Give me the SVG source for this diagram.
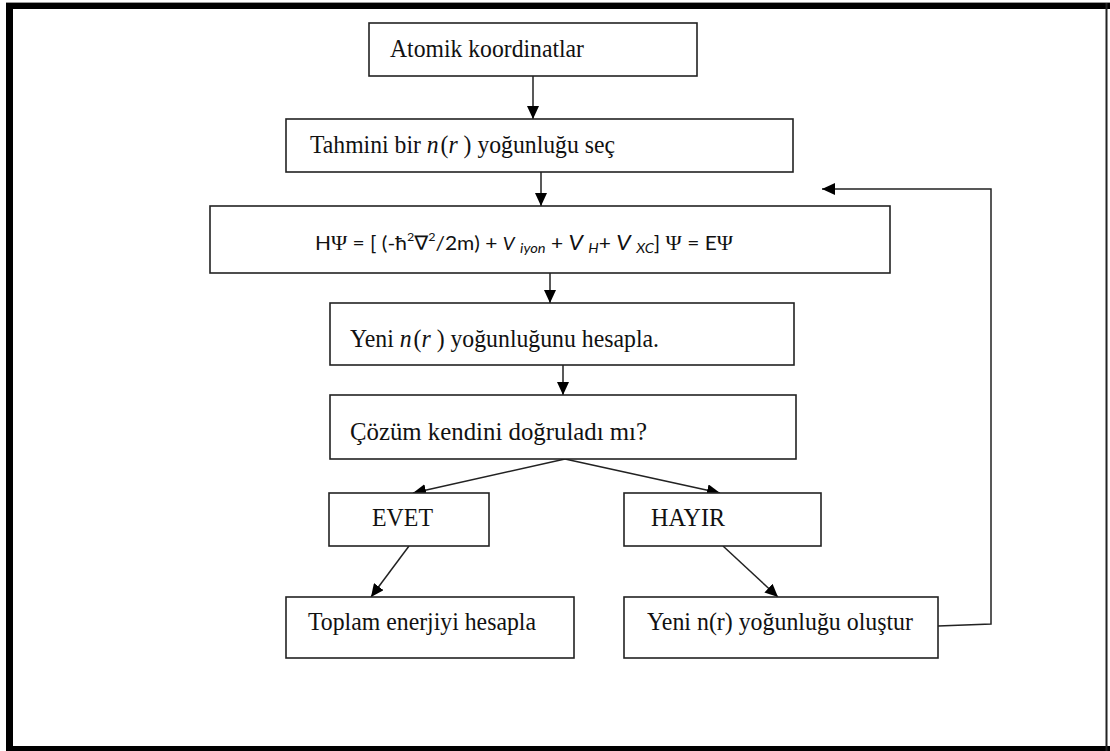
<svg xmlns="http://www.w3.org/2000/svg" width="1110" height="751" viewBox="0 0 1110 751">
  <defs>
    <marker id="head" markerWidth="13" markerHeight="12" refX="13" refY="6" orient="auto" markerUnits="userSpaceOnUse">
      <path d="M0,0 L13,6 L0,12 Z" fill="#000"/>
    </marker>
    <style>
      .box { fill: #fff; stroke: #222; stroke-width: 1.6; }
      .lbl { font-family: "Liberation Serif", "Times New Roman", serif; font-size: 25px; fill: #111; }
      .it { font-style: italic; }
      .eq { font-family: Lato, "Open Sans", "DejaVu Sans", sans-serif; font-size: 20px; fill: #111; }
      .psi { font-family: "Liberation Serif", "DejaVu Serif", serif; font-size: 21px; }
      .sup { font-size: 12px; }
      .sub { font-size: 14px; font-style: italic; }
      .vs { font-size: 18px; font-style: italic; }
      .vb { font-size: 22px; font-style: italic; }
      .wire { fill: none; stroke: #222; stroke-width: 1.5; }
    </style>
  </defs>

  <!-- page frame -->
  <g id="frame">
    <rect x="0" y="0" width="1110" height="751" fill="#fff"/>
    <rect x="6" y="2" width="1104" height="1" fill="#999"/>
    <rect x="6" y="3" width="1104" height="6" fill="#000"/>
    <rect x="6" y="3" width="7" height="748" fill="#000"/>
    <rect x="6" y="746" width="1104" height="5" fill="#000"/>
    <rect x="1105.5" y="3" width="2" height="748" fill="#222"/>
  </g>

  <!-- connectors -->
  <g id="connectors">
    <line class="wire" x1="533" y1="76" x2="533" y2="119" marker-end="url(#head)"/>
    <line class="wire" x1="541" y1="172" x2="541" y2="206" marker-end="url(#head)"/>
    <line class="wire" x1="550" y1="273" x2="550" y2="303" marker-end="url(#head)"/>
    <line class="wire" x1="563" y1="365" x2="563" y2="395" marker-end="url(#head)"/>
    <line class="wire" x1="565" y1="459" x2="413" y2="493" marker-end="url(#head)"/>
    <line class="wire" x1="565" y1="459" x2="720" y2="493" marker-end="url(#head)"/>
    <line class="wire" x1="409" y1="546" x2="371" y2="597" marker-end="url(#head)"/>
    <line class="wire" x1="723" y1="546" x2="778" y2="597" marker-end="url(#head)"/>
    <polyline class="wire" points="938,626 991,624 991,189 822,189" marker-end="url(#head)"/>
  </g>

  <g id="atomik">
    <rect class="box" x="369" y="23" width="328" height="53"/>
    <text class="lbl" x="390" y="57" textLength="194" lengthAdjust="spacingAndGlyphs">Atomik koordinatlar</text>
  </g>

  <g id="tahmin">
    <rect class="box" x="286" y="119" width="507" height="53"/>
    <text class="lbl" x="310" y="153" textLength="305" lengthAdjust="spacingAndGlyphs">Tahmini bir <tspan class="it">n</tspan><tspan dx="2">(</tspan><tspan class="it">r</tspan> ) yoğunluğu seç</text>
  </g>

  <!-- Kohn-Sham equation -->
  <g id="kohn-sham">
    <rect class="box" x="210" y="206" width="680" height="67"/>
    <text class="eq" x="315" y="250" textLength="418" lengthAdjust="spacingAndGlyphs">H<tspan class="psi">Ψ</tspan> = [ (-ħ<tspan class="sup" dy="-9">2</tspan><tspan dy="9">∇</tspan><tspan class="sup" dy="-9">2</tspan><tspan dy="9">/2m) + </tspan><tspan class="vs">V</tspan> <tspan class="sub" dy="3">iyon</tspan><tspan dy="-3"> + </tspan><tspan class="vb">V</tspan>  <tspan class="sub" dy="3">H</tspan><tspan dy="-3">+ </tspan><tspan class="vb">V</tspan>  <tspan class="sub" dy="3">XC</tspan><tspan dy="-3">] </tspan><tspan class="psi">Ψ</tspan> = E<tspan class="psi">Ψ</tspan></text>
  </g>

  <g id="yeni-hesapla">
    <rect class="box" x="330" y="303" width="464" height="62"/>
    <text class="lbl" x="350" y="347" textLength="309" lengthAdjust="spacingAndGlyphs">Yeni <tspan class="it">n</tspan><tspan dx="2">(</tspan><tspan class="it">r</tspan> ) yoğunluğunu  hesapla.</text>
  </g>

  <g id="cozum">
    <rect class="box" x="330" y="395" width="466" height="64"/>
    <text class="lbl" x="350" y="440" textLength="297" lengthAdjust="spacingAndGlyphs">Çözüm kendini doğruladı mı?</text>
  </g>

  <g id="evet">
    <rect class="box" x="329" y="493" width="160" height="53"/>
    <text class="lbl" x="372" y="526" textLength="61" lengthAdjust="spacingAndGlyphs">EVET</text>
  </g>

  <g id="hayir">
    <rect class="box" x="624" y="493" width="197" height="53"/>
    <text class="lbl" x="651" y="526" textLength="74" lengthAdjust="spacingAndGlyphs">HAYIR</text>
  </g>

  <g id="toplam">
    <rect class="box" x="286" y="597" width="288" height="61"/>
    <text class="lbl" x="308" y="630" textLength="228" lengthAdjust="spacingAndGlyphs">Toplam enerjiyi hesapla</text>
  </g>

  <g id="yeni-olustur">
    <rect class="box" x="624" y="597" width="314" height="61"/>
    <text class="lbl" x="647" y="630" textLength="266" lengthAdjust="spacingAndGlyphs">Yeni n(r) yoğunluğu oluştur</text>
  </g>
</svg>
